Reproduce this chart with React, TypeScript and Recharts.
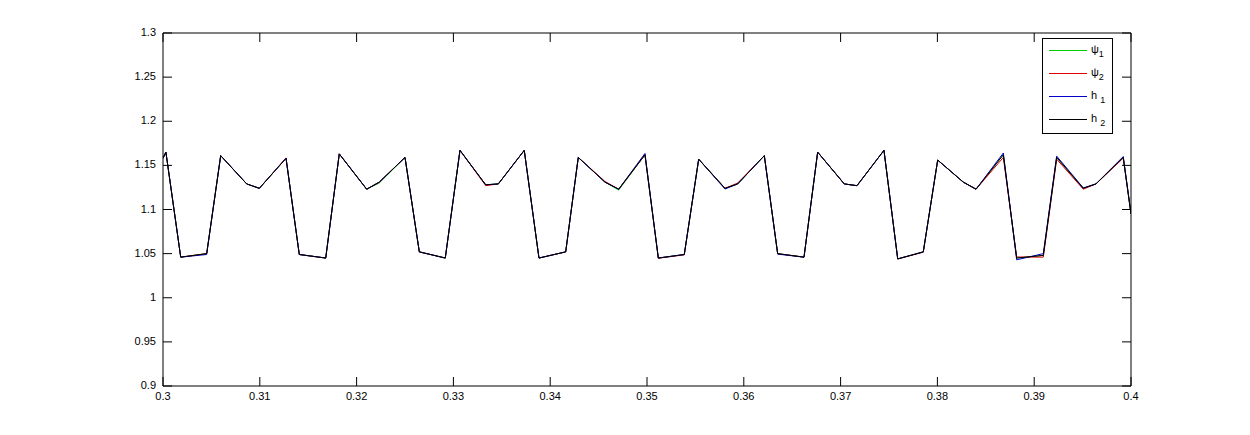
import React from "react";
import { LineChart, Line, XAxis, YAxis, Legend } from "recharts";

// sample times (s)
const times = [
  0.3, 0.3003, 0.30183, 0.30451, 0.30596, 0.30865, 0.30995, 0.31271, 0.31408, 0.31681,
  0.31821, 0.32104, 0.32234, 0.325, 0.32648, 0.32916, 0.33068, 0.33334, 0.33464, 0.33732,
  0.33884, 0.3416, 0.3429, 0.34566, 0.34708, 0.34979, 0.35117, 0.35385, 0.35534, 0.35806,
  0.35937, 0.36212, 0.3635, 0.36622, 0.36763, 0.37038, 0.37169, 0.37448, 0.3759, 0.37854,
  0.38003, 0.38268, 0.38399, 0.38681, 0.38819, 0.39094, 0.39232, 0.39507, 0.39638, 0.3992,
  0.4,
];

const psi1 = [
  1.158, 1.165, 1.046, 1.05, 1.161, 1.129, 1.124, 1.158, 1.049, 1.045,
  1.163, 1.123, 1.13, 1.159, 1.052, 1.045, 1.167, 1.128, 1.129, 1.167,
  1.045, 1.052, 1.159, 1.131, 1.122, 1.162, 1.045, 1.049, 1.157, 1.124,
  1.129, 1.161, 1.05, 1.046, 1.165, 1.129, 1.127, 1.167, 1.044, 1.052,
  1.156, 1.131, 1.123, 1.162, 1.045, 1.048, 1.159, 1.124, 1.129, 1.159,
  1.095,
];

const psi2 = [
  1.158, 1.165, 1.046, 1.05, 1.161, 1.129, 1.124, 1.1585, 1.049, 1.045,
  1.163, 1.123, 1.131, 1.159, 1.052, 1.045, 1.167, 1.127, 1.129, 1.167,
  1.045, 1.052, 1.159, 1.1318, 1.123, 1.162, 1.0448, 1.0486, 1.157, 1.124,
  1.13, 1.161, 1.05, 1.046, 1.165, 1.129, 1.127, 1.167, 1.044, 1.0516,
  1.156, 1.131, 1.123, 1.159, 1.0462, 1.046, 1.157, 1.123, 1.129, 1.1582,
  1.095,
];

const h1 = [
  1.158, 1.165, 1.046, 1.049, 1.161, 1.129, 1.124, 1.158, 1.049, 1.045,
  1.163, 1.123, 1.131, 1.159, 1.052, 1.045, 1.167, 1.128, 1.129, 1.167,
  1.045, 1.052, 1.159, 1.131, 1.123, 1.1635, 1.045, 1.049, 1.157, 1.1232,
  1.129, 1.161, 1.0494, 1.046, 1.165, 1.129, 1.127, 1.167, 1.044, 1.052,
  1.156, 1.131, 1.123, 1.164, 1.043, 1.05, 1.1605, 1.1245, 1.129, 1.16,
  1.095,
];

const h2 = [
  1.158, 1.165, 1.046, 1.05, 1.161, 1.129, 1.124, 1.158, 1.049, 1.045,
  1.163, 1.123, 1.131, 1.159, 1.052, 1.045, 1.167, 1.128, 1.129, 1.167,
  1.045, 1.052, 1.159, 1.131, 1.123, 1.162, 1.045, 1.049, 1.157, 1.124,
  1.129, 1.161, 1.05, 1.046, 1.165, 1.129, 1.127, 1.167, 1.044, 1.052,
  1.156, 1.131, 1.123, 1.162, 1.045, 1.048, 1.159, 1.124, 1.129, 1.159,
  1.095,
];

const xTicks = [0.3, 0.31, 0.32, 0.33, 0.34, 0.35, 0.36, 0.37, 0.38, 0.39, 0.4];
const yTicks = [0.9, 0.95, 1, 1.05, 1.1, 1.15, 1.2, 1.25, 1.3];

const seriesKeys = ["psi1", "psi2", "h1", "h2"];
const seriesColors = ["#00d000", "#e00000", "#0000c8", "#000000"];
const legendBase = ["\u03c8", "\u03c8", "h", "h"];
const legendSub = ["1", "2", "1", "2"];

const data = times.map((t, i) => ({
  t,
  psi1: psi1[i],
  psi2: psi2[i],
  h1: h1[i],
  h2: h2[i],
}));

const FONT = "'Liberation Sans', Arial, Helvetica, sans-serif";
const TICK_LEN = 9;

function BottomTick(p: any) {
  return (
    <g>
      <line x1={p.x} x2={p.x} y1={p.y} y2={p.y - TICK_LEN} stroke="#000" />
      <text x={p.x} y={p.y + 14} textAnchor="middle" fontSize={11} fontFamily={FONT} fill="#000">
        {p.payload.value}
      </text>
    </g>
  );
}

function TopTick(p: any) {
  return <line x1={p.x} x2={p.x} y1={p.y} y2={p.y + TICK_LEN} stroke="#000" />;
}

function LeftTick(p: any) {
  return (
    <g>
      <line x1={p.x} x2={p.x + TICK_LEN} y1={p.y} y2={p.y} stroke="#000" />
      <text x={p.x - 7} y={p.y + 3} textAnchor="end" fontSize={11} fontFamily={FONT} fill="#000">
        {p.payload.value}
      </text>
    </g>
  );
}

function RightTick(p: any) {
  return <line x1={p.x} x2={p.x - TICK_LEN} y1={p.y} y2={p.y} stroke="#000" />;
}

function LegendBox() {
  return (
    <svg width={71} height={96} style={{ display: "block" }}>
      <rect x={0.5} y={0.5} width={70} height={95} fill="#fff" stroke="#000" />
      {seriesKeys.map((k, i) => {
        const y = 12.5 + i * 23;
        return (
          <g key={k}>
            <line x1={7} x2={45} y1={y} y2={y} stroke={seriesColors[i]} />
            <text x={49} y={y + 2} fontSize={11} fontFamily={FONT} fill="#000">
              {legendBase[i]}
              <tspan dx={i > 1 ? 3 : 0} dy={4} fontSize={9}>
                {legendSub[i]}
              </tspan>
            </text>
          </g>
        );
      })}
    </svg>
  );
}

export default function App() {
  return (
    <div style={{ position: "absolute", left: 0, top: 0, width: 1250, height: 435, background: "#fff" }}>
      <LineChart
        width={1250}
        height={435}
        data={data}
        margin={{ top: 32, right: 118, bottom: 0, left: 0 }}
      >
        <XAxis
          dataKey="t"
          type="number"
          domain={[0.3, 0.4]}
          ticks={xTicks}
          height={49}
          tickSize={0}
          tickMargin={0}
          tickLine={false}
          tick={<BottomTick />}
          axisLine={{ stroke: "#000" }}
          allowDataOverflow
        />
        <XAxis
          xAxisId="top"
          orientation="top"
          dataKey="t"
          type="number"
          domain={[0.3, 0.4]}
          ticks={xTicks}
          height={1}
          tickSize={0}
          tickMargin={0}
          tickLine={false}
          tick={<TopTick />}
          axisLine={{ stroke: "#000" }}
          allowDataOverflow
        />
        <YAxis
          type="number"
          domain={[0.9, 1.3]}
          ticks={yTicks}
          width={163}
          tickSize={0}
          tickMargin={0}
          tickLine={false}
          tick={<LeftTick />}
          axisLine={{ stroke: "#000" }}
          allowDataOverflow
        />
        <YAxis
          yAxisId="right"
          orientation="right"
          type="number"
          domain={[0.9, 1.3]}
          ticks={yTicks}
          width={1}
          tickSize={0}
          tickMargin={0}
          tickLine={false}
          tick={<RightTick />}
          axisLine={{ stroke: "#000" }}
          allowDataOverflow
        />
        <Legend
          layout="horizontal"
          verticalAlign="middle"
          align="center"
          width={71}
          height={96}
          content={<LegendBox />}
          wrapperStyle={{ left: 1042, top: 38, width: 71, height: 96 }}
        />
        {seriesKeys.map((k, i) => (
          <Line
            key={k}
            type="linear"
            dataKey={k}
            stroke={seriesColors[i]}
            strokeWidth={1}
            dot={false}
            activeDot={false}
            isAnimationActive={false}
          />
        ))}
      </LineChart>
    </div>
  );
}
